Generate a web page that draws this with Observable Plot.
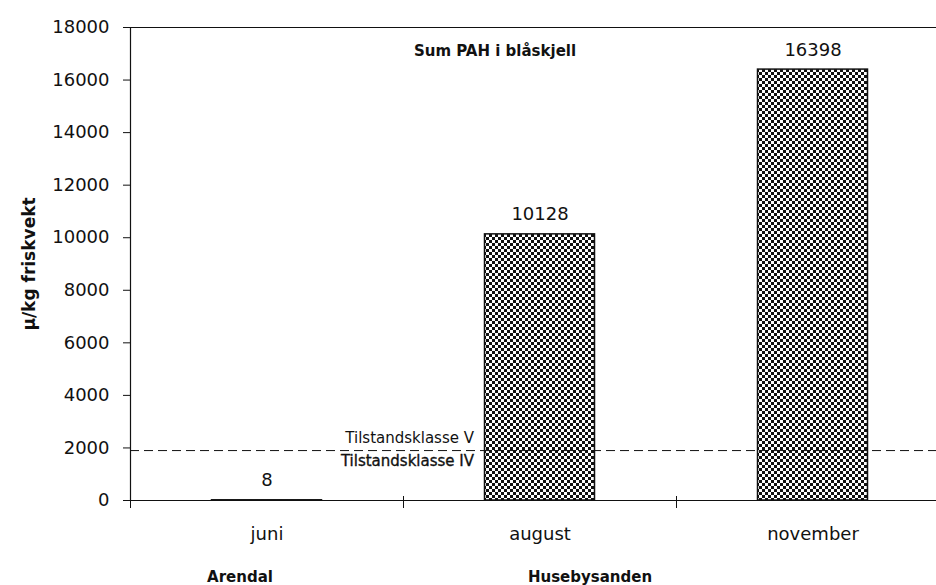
<!DOCTYPE html>
<html><head><meta charset="utf-8">
<script src="https://cdn.jsdelivr.net/npm/d3@7"></script>
<script src="https://cdn.jsdelivr.net/npm/@observablehq/plot@0.6"></script>
<style>
body{margin:0;overflow:hidden;background:#fff}
#chart svg{overflow:hidden}
</style>
</head><body><div id="chart"></div>
<script>
// ---- data ----
const months = ["juni", "august", "november"];
const values = [8, 10128, 16398];
const valueLabels = ["8", "10128", "16398"];
const yTicks = [0, 2000, 4000, 6000, 8000, 10000, 12000, 14000, 16000, 18000];
const threshold = 1900;
const thresholdAbove = "Tilstandsklasse V";
const thresholdBelow = "Tilstandsklasse IV";
const sites = ["Arendal", "Husebysanden"];
const siteMonths = ["juni", "august"];
const title = "Sum PAH i blåskjell";
const yLabel = "µ/kg friskvekt";

// ---- build ----
const rows = months.map((m, i) => ({month: m, value: values[i], label: valueLabels[i]}));

const W = 936, H = 585;
const xRange = [130, 949];
const half = (xRange[1] - xRange[0]) / months.length / 2;
const font = "'DejaVu Sans', sans-serif";
const ink = "#111";

const chart = Plot.plot({
  width: W,
  height: H,
  marginLeft: 130,
  marginRight: 0,
  marginTop: 27,
  marginBottom: 85,
  style: {fontFamily: font, fontSize: "18px", color: ink, background: "#fff"},
  x: {domain: months, range: xRange, padding: 0},
  y: {domain: [0, 18000]},
  marks: [
    Plot.barY(rows, {x: "month", y: "value", fill: "url(#checker)", stroke: ink, strokeWidth: 1.5, insetLeft: 81.5, insetRight: 81.5}),
    Plot.ruleY([threshold], {stroke: ink, strokeWidth: 1, strokeDasharray: "9,5"}),
    Plot.ruleY([0], {stroke: ink, strokeWidth: 1.2}),
    Plot.ruleY([18000], {stroke: ink, strokeWidth: 1}),
    Plot.frame({anchor: "left", stroke: ink, strokeWidth: 1.2}),
    Plot.axisY(yTicks, {tickSize: 7, tickPadding: 14, fontSize: 18, label: null, stroke: ink, tickFormat: d => String(d)}),
    Plot.axisX({tickSize: 0, tickPadding: 27, fontSize: 18, label: null}),
    Plot.axisX({tickSize: 12, tickFormat: () => "", dx: -half, dy: -4, label: null, stroke: ink}),
    Plot.text(rows, {x: "month", y: "value", text: "label", lineAnchor: "bottom", dy: -14, fontSize: 18, fill: ink}),
    Plot.text([thresholdAbove], {x: () => "august", y: () => threshold, text: d => d, textAnchor: "end", lineAnchor: "bottom", dx: -66, dy: -8, fontSize: 15, fill: ink}),
    Plot.text([thresholdBelow], {x: () => "august", y: () => threshold, text: d => d, textAnchor: "end", lineAnchor: "top", dx: -66, dy: 5, fontSize: 15, fill: ink, stroke: ink, strokeWidth: 0.35}),
    Plot.text([title], {x: () => "august", frameAnchor: "top", text: d => d, dx: -45, dy: 18, fontSize: 15, fontWeight: "bold", fill: ink}),
    Plot.text([yLabel], {frameAnchor: "left", text: d => d, rotate: -90, textAnchor: "middle", dx: -101, fontSize: 17, letterSpacing: "1px", fontWeight: "bold", fill: ink}),
    Plot.text([sites[0]], {x: () => siteMonths[0], text: d => d, frameAnchor: "bottom", lineAnchor: "middle", dy: 77, dx: -27, fontSize: 15, fontWeight: "bold", fill: ink}),
    Plot.text([sites[1]], {x: () => siteMonths[1], text: d => d, frameAnchor: "bottom", lineAnchor: "middle", dy: 77, dx: 50, fontSize: 15, fontWeight: "bold", fill: ink})
  ]
});

// checker pattern for bars
const svg = d3.select(chart);
const defs = svg.insert("defs", ":first-child");
const pat = defs.append("pattern").attr("id", "checker").attr("patternUnits", "userSpaceOnUse")
  .attr("width", 6).attr("height", 6);
pat.append("rect").attr("width", 6).attr("height", 6).attr("fill", "#111");
pat.append("rect").attr("x", 0).attr("y", 0).attr("width", 3).attr("height", 3).attr("fill", "#fff");
pat.append("rect").attr("x", 3).attr("y", 3).attr("width", 3).attr("height", 3).attr("fill", "#fff");

document.getElementById("chart").appendChild(chart);
</script>
</body></html>
